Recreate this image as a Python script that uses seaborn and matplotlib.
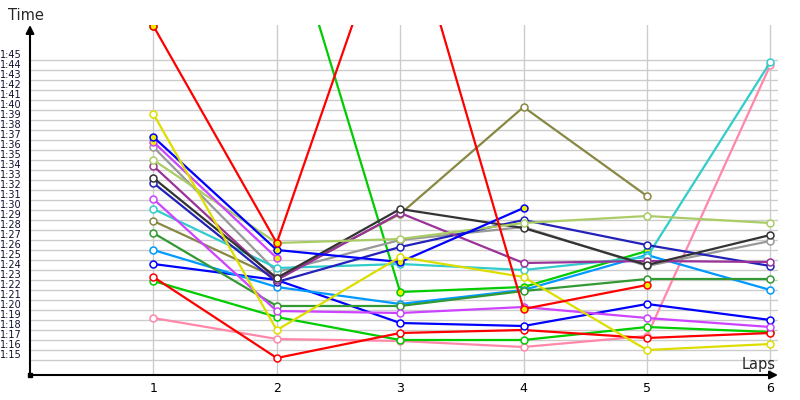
import numpy as np
import pandas as pd
import matplotlib
matplotlib.use("Agg")
import matplotlib.pyplot as plt
import seaborn as sns

# ---------------- data ----------------
laps = [1, 2, 3, 4, 5, 6]
nan = np.nan

# lap times in seconds
red_y      = [108.4, 86.7, 122.3, 80.1, 82.5, nan]
green_y    = [108.4, 122.4, 81.8, 82.3, 85.9, nan]
yellow     = [99.6, 78.0, 85.3, 83.3, 76.0, 76.6]
blue_y     = [97.3, 86.0, 84.8, 90.2, nan, nan]
magenta_y  = [96.8, 85.2, nan, nan, nan, nan]
gray       = [96.3, 83.8, 87.0, 88.3, 84.4, 86.9]
lightgreen = [95.0, 86.7, 87.1, 88.7, 89.4, 88.7]
purple     = [94.4, 83.0, 89.7, 84.7, 84.9, 84.8]
darkgray   = [93.2, 83.2, 90.1, 88.2, 84.5, 87.5]
navy       = [92.7, 82.8, 86.3, 89.0, 86.5, 84.4]
magenta    = [91.1, 79.9, 79.7, 80.3, 79.2, 78.3]
cyan       = [90.1, 84.2, 84.6, 84.0, 85.3, 104.8]
olive      = [88.9, 83.2, 89.6, 100.3, 91.4, nan]
darkgreen  = [87.7, 80.4, 80.4, 81.9, 83.1, 83.1]
lightblue  = [86.0, 82.3, 80.6, 82.0, 85.5, 82.0]
blue       = [84.6, 83.0, 78.7, 78.4, 80.6, 79.0]
red        = [83.3, 75.2, 77.7, 78.0, 77.2, 77.7]
green      = [82.9, 79.3, 77.0, 77.0, 78.3, 77.8]
pink       = [79.2, 77.1, 76.9, 76.3, 77.4, 104.5]

series = [
    ("green_y", green_y, "#00cc00", "#eeee00"),
    ("pink", pink, "#ff88aa", "white"),
    ("green", green, "#00cc00", "white"),
    ("red", red, "#ff0000", "white"),
    ("blue", blue, "#0000ff", "white"),
    ("lightblue", lightblue, "#0099ff", "white"),
    ("darkgreen", darkgreen, "#339933", "white"),
    ("gray", gray, "#999999", "white"),
    ("olive", olive, "#888844", "white"),
    ("cyan", cyan, "#33cccc", "white"),
    ("magenta", magenta, "#cc44ff", "white"),
    ("navy", navy, "#2222bb", "white"),
    ("purple", purple, "#993399", "white"),
    ("darkgray", darkgray, "#333333", "white"),
    ("lightgreen", lightgreen, "#aacc66", "white"),
    ("magenta_y", magenta_y, "#cc44ff", "#eeee00"),
    ("blue_y", blue_y, "#0000ff", "#eeee00"),
    ("yellow", yellow, "#dddd00", "white"),
    ("red_y", red_y, "#ff0000", "#eeee00"),
]

y_tick_values = list(range(75, 106))
y_tick_labels = [f"{v // 60}:{v % 60:02d}" for v in y_tick_values]
x_tick_values = laps
x_tick_labels = [str(l) for l in laps]

# ---------------- plot ----------------
sns.set_style("white")
plt.rcParams["font.family"] = ["DejaVu Sans"]

fig = plt.figure(figsize=(8, 4), dpi=100)
ax = fig.add_axes([30 / 800, 25 / 400, 748 / 800, 350 / 400])

for i, (name, vals, col, fc) in enumerate(series):
    df = pd.DataFrame({"lap": laps, "time": vals}).dropna()
    sns.lineplot(data=df, x="lap", y="time", ax=ax, color=col, lw=1.6,
                 marker="o", markersize=5, markerfacecolor=fc,
                 markeredgecolor=col, markeredgewidth=1.1, zorder=3 + i)

ax.set_xlim(0, 6.062)
ax.set_ylim(73.5, 108.5)
ax.set_xticks(x_tick_values, x_tick_labels)
ax.set_yticks(y_tick_values, y_tick_labels)
ax.grid(True, color="#cccccc", lw=1)
ax.set_axisbelow(True)
ax.set_xlabel("")
ax.set_ylabel("")
for s in ax.spines.values():
    s.set_visible(False)

ax.tick_params(axis="x", length=0, pad=5, labelsize=9, labelcolor="black")
ax.tick_params(axis="y", length=0, pad=6, labelsize=7, labelcolor="#101030")
for t in ax.get_yticklabels():
    t.set_va("bottom")

# axis lines with arrows
ax.annotate("", xy=(0, 1), xytext=(0, 0), xycoords="axes fraction",
            arrowprops=dict(arrowstyle="-|>", color="black", lw=1.5,
                            mutation_scale=12, shrinkA=0, shrinkB=0),
            annotation_clip=False, zorder=30)
ax.annotate("", xy=(1, 0), xytext=(0, 0), xycoords="axes fraction",
            arrowprops=dict(arrowstyle="-|>", color="black", lw=1.5,
                            mutation_scale=12, shrinkA=0, shrinkB=0),
            annotation_clip=False, zorder=30)
ax.plot([0], [0], marker="s", ms=3, color="black", transform=ax.transAxes,
        clip_on=False, zorder=31)

fig.text(8 / 800, 1 - 15 / 400, "Time", ha="left", va="center", fontsize=10.5)
fig.text(776 / 800, 1 - 365 / 400, "Laps", ha="right", va="center", fontsize=10.5)

fig.savefig("out.png", dpi=100)
